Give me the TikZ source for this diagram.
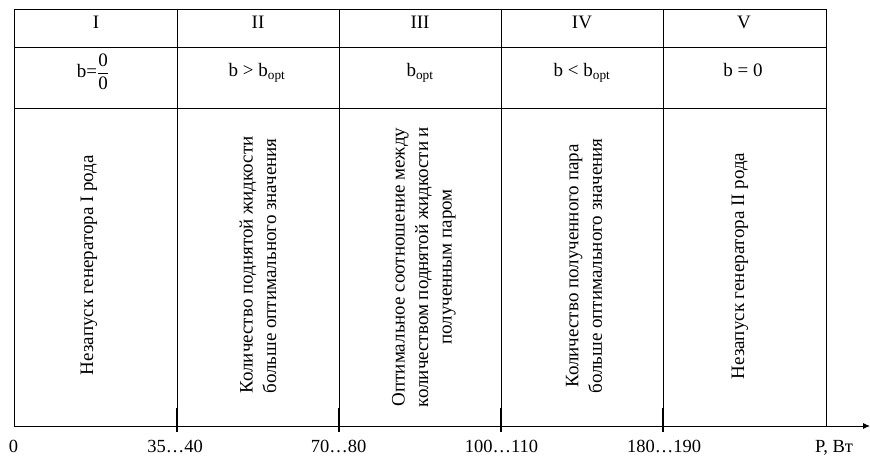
\documentclass[tikz,border=0pt]{standalone}
\usepackage{amsmath}
\usepackage{fontspec}
\setmainfont{Liberation Serif}
\usetikzlibrary{arrows.meta}

\begin{document}
\begin{tikzpicture}[x=1pt,y=-1pt,
  every node/.style={inner sep=0pt,font=\fontsize{19}{23.5}\selectfont},
  headtext/.style={anchor=base},
  vtext/.style={rotate=90},
  axislabel/.style={anchor=base,font=\fontsize{18.5}{22}\selectfont},
  gridline/.style={line width=0.9pt},
  tickmark/.style={line width=2.2pt}]
\useasboundingbox (0,0) rectangle (870,457);
\draw[gridline] (14,426) -- (14,9) -- (826,9) -- (826,426);
\draw[gridline] (14,47) -- (826,47);
\draw[gridline] (14,108) -- (826,108);
\draw[gridline] (177,9) -- (177,426);
\draw[gridline] (339,9) -- (339,426);
\draw[gridline] (501,9) -- (501,426);
\draw[gridline] (663,9) -- (663,426);
\coordinate (origin) at (14,426);
\coordinate (axisend) at (870,426);
\draw[gridline,-{Latex[length=7pt,width=6pt]}] (origin) -- (axisend);
\draw[tickmark] (177,408) -- (177,432);
\draw[tickmark] (339,408) -- (339,432);
\draw[tickmark] (501,408) -- (501,432);
\draw[tickmark] (663,408) -- (663,432);
\node[headtext] (headI) at (96,29) {I};
\node[headtext] (headII) at (258,29) {II};
\node[headtext] (headIII) at (420,29) {III};
\node[headtext] (headIV) at (582,29) {IV};
\node[headtext] (headV) at (744,29) {V};
\node[headtext] (condI) at (93,78) {b=$\dfrac{\text{0}}{\text{0}}$};
\node[headtext] (condII) at (257,77) {b > b$_{\text{opt}}$};
\node[headtext] (condIII) at (420,77) {b$_{\text{opt}}$};
\node[headtext] (condIV) at (582,77) {b < b$_{\text{opt}}$};
\node[headtext] (condV) at (743,77) {b = 0};
\node[vtext] (descI) at (89,265) {Незапуск генератора I рода};
\node[vtext,align=left] (descII) at (258,265) {Количество поднятой жидкости\\больше оптимального значения};
\node[vtext,align=center] (descIII) at (424,267) {Оптимальное соотношение между\\количеством поднятой жидкости и\\полученным паром};
\node[vtext,align=center] (descIV) at (584,266) {Количество полученного пара\\больше оптимального значения};
\node[vtext] (descV) at (740,266) {Незапуск генератора II рода};
\node[axislabel] (lbl0) at (13.5,452) {0};
\node[axislabel] (lbl1) at (175,452) {35…40};
\node[axislabel] (lbl2) at (338.5,452) {70…80};
\node[axislabel] (lbl3) at (501.5,452) {100…110};
\node[axislabel] (lbl4) at (664,452) {180…190};
\node[axislabel] (lbl5) at (834,452) {P, Вт};
\end{tikzpicture}
\end{document}
